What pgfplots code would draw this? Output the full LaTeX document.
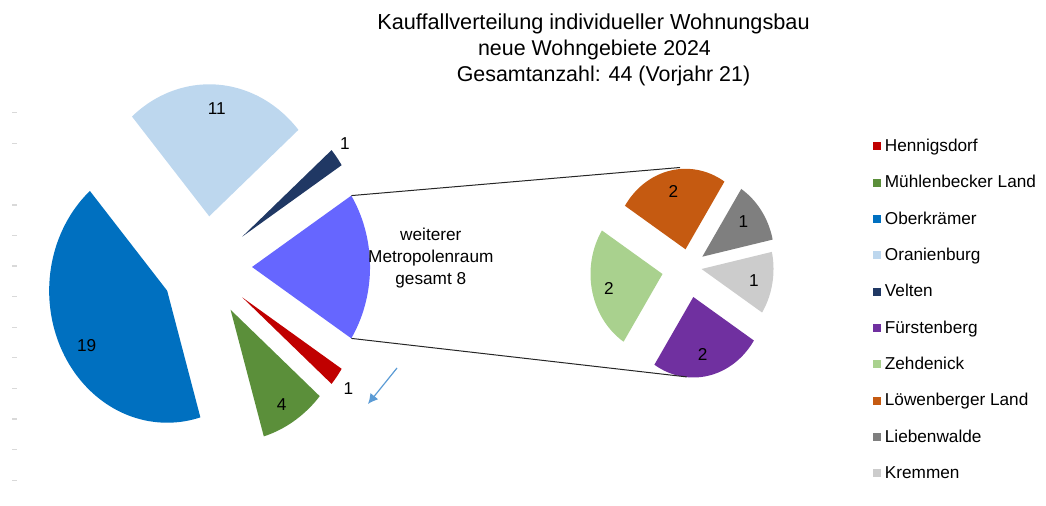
\documentclass[border=0pt]{standalone}
\usepackage{pgfplots}
\pgfplotsset{compat=1.18}
\usepackage{fontspec}
\setmainfont{Liberation Sans}
\usetikzlibrary{arrows.meta}

\definecolor{cHen}{HTML}{C00000}
\definecolor{cMue}{HTML}{5B8F3A}
\definecolor{cObe}{HTML}{0070C0}
\definecolor{cOra}{HTML}{BDD7EE}
\definecolor{cVel}{HTML}{203864}
\definecolor{cWei}{HTML}{6666FF}
\definecolor{cFue}{HTML}{7030A0}
\definecolor{cZeh}{HTML}{A9D18E}
\definecolor{cLoe}{HTML}{C55A11}
\definecolor{cLie}{HTML}{7F7F7F}
\definecolor{cKre}{HTML}{CCCCCC}
\definecolor{cArr}{HTML}{5B9BD5}

\newcommand\lblfont{\fontsize{8.6}{11}\selectfont}
\newcommand\ttlfont{\fontsize{10.7}{13}\selectfont}
\newcommand\pietotal{44}
\newcommand\curangle{0}

% #1 extra opts, #2 value, #3 colour, #4 cx, #5 cy, #6 rx, #7 ry, #8 explode, #9 samples
\newcommand{\pieslice}[9]{%
  \pgfmathsetmacro{\sa}{\curangle - #2*360/\pietotal}%
  \pgfmathsetmacro{\sb}{\curangle}%
  \pgfmathsetmacro{\smid}{(\sa+\sb)/2}%
  \pgfmathsetmacro{\tx}{#4 + #8*#6*cos(\smid)}%
  \pgfmathsetmacro{\ty}{#5 - #8*#7*sin(\smid)}%
  \xdef\curangle{\sa}%
  \edef\doplot{\noexpand\addplot[#1, fill=#3, draw=none, variable=\noexpand\t,
     domain=0:#9, samples=\the\numexpr#9+1\relax]
     ({\tx + (\noexpand\t<0.5 ? 0 : #6*cos(\sa+(\noexpand\t-1)*(\sb-\sa)/(#9-1)))},
      {\ty - (\noexpand\t<0.5 ? 0 : #7*sin(\sa+(\noexpand\t-1)*(\sb-\sa)/(#9-1)))});}%
  \doplot
}

\begin{document}
\begin{tikzpicture}
\begin{axis}[
  scale only axis, width=523pt, height=253pt,
  xmin=0, xmax=1046, ymin=0, ymax=506, y dir=reverse,
  hide axis, clip=false,
  legend cell align=left,
  legend image code/.code={\fill[#1] (0pt,-1.6pt) rectangle (4pt,2.4pt);},
  legend style={at={(axis cs:872.5,139)}, anchor=north west, draw=none, fill=none,
    inner sep=0pt, outer sep=0pt, row sep=9.95pt, column sep=2.2pt,
    font=\lblfont, nodes={inner sep=0pt, text height=6.3pt, text depth=1.9pt}},
]
\addplot[forget plot, draw=none] coordinates {(0,0) (1046,506)};

% main pie (total 44), start at -8*180/44 going clockwise
\xdef\curangle{-32.7273}
\pieslice{}{1}{cHen}{206}{267}{118}{132}{0.385}{8}
\addlegendentry{Hennigsdorf}
\pieslice{}{4}{cMue}{206}{267}{118}{132}{0.385}{20}
\addlegendentry{Mühlenbecker Land}
\pieslice{}{19}{cObe}{206}{267}{118}{132}{0.375}{80}
\addlegendentry{Oberkrämer}
\pieslice{}{11}{cOra}{206}{267}{118}{132}{0.385}{50}
\addlegendentry{Oranienburg}
\pieslice{}{1}{cVel}{206}{267}{118}{132}{0.385}{8}
\addlegendentry{Velten}
\pieslice{forget plot}{8}{cWei}{206}{267}{118}{132}{0.39}{40}

% second pie (total 8)
\renewcommand\pietotal{8}
\xdef\curangle{-32.7273}
\pieslice{}{2}{cFue}{693.3}{297}{72}{80.5}{0}{40}
\addlegendentry{Fürstenberg}
\pieslice{}{2}{cZeh}{662.5}{274}{72}{80.5}{0}{40}
\addlegendentry{Zehdenick}
\pieslice{}{2}{cLoe}{685.5}{249.3}{72}{80.5}{0}{40}
\addlegendentry{Löwenberger Land}
\pieslice{}{1}{cLie}{702.3}{256.7}{72}{80.5}{0}{24}
\addlegendentry{Liebenwalde}
\pieslice{}{1}{cKre}{701.5}{269}{72}{80.5}{0}{24}
\addlegendentry{Kremmen}

% connector lines
\addplot[forget plot, black!85, line width=0.5pt] coordinates {(351.3,195.6) (680,167.5)};
\addplot[forget plot, black!85, line width=0.5pt] coordinates {(351.3,338.4) (686.7,376.9)};

% arrow
\addplot[forget plot, cArr, line width=0.6pt, -{Latex[length=5pt,width=5pt]}] coordinates {(397,368) (368,404)};

% faint dashes at the left edge
\addplot[forget plot, only marks, mark=-, mark size=1.2pt, color=black!15, mark options={line width=0.6pt}]
  coordinates {(14.3,112.7) (14.3,143.3) (14.3,205) (14.3,235.3) (14.3,266) (14.3,296.7)
               (14.3,327.3) (14.3,357.7) (14.3,388.3) (14.3,419) (14.3,449.7) (14.3,480.3)};

% labels
\begin{scope}[every node/.style={font=\lblfont, inner sep=0pt, anchor=center}]
\node at (axis cs:216.7,108.3) {11};
\node at (axis cs:345,143.3) {1};
\node at (axis cs:86.7,345.7) {19};
\node at (axis cs:281.7,405) {4};
\node at (axis cs:348.3,388.3) {1};
\node at (axis cs:673.3,191.7) {2};
\node at (axis cs:743.3,221.7) {1};
\node at (axis cs:754,280.7) {1};
\node at (axis cs:609,288.3) {2};
\node at (axis cs:702.7,354) {2};
\node[align=center, font=\fontsize{8.6}{11}\selectfont] at (axis cs:430.8,258) {weiterer\\Metropolenraum\\gesamt 8};
\end{scope}

% title
\node[font=\fontsize{10.85}{13}\selectfont, anchor=base, inner sep=0pt] at (axis cs:593.5,29.3) {Kauffallverteilung individueller Wohnungsbau};
\node[font=\ttlfont, anchor=base, inner sep=0pt] at (axis cs:594.5,55.5) {neue Wohngebiete 2024};
\node[font=\ttlfont, anchor=base, inner sep=0pt] at (axis cs:603.5,82) {Gesamtanzahl: 44 (Vorjahr 21)};
\end{axis}
\end{tikzpicture}
\end{document}
